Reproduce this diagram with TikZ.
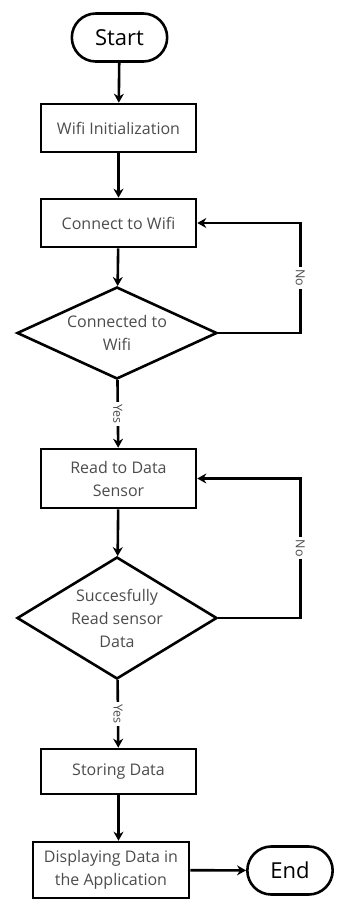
\documentclass[tikz,border=0pt]{standalone}
\usepackage{fontspec}
\setmainfont{Open Sans}
\usepackage{tikz}
\usetikzlibrary{shapes.geometric, shapes.misc, arrows.meta}

\begin{document}
\begin{tikzpicture}[x=1pt, y=-1pt, line width=2.6pt,
    process/.style={
      rectangle,
      draw,
      minimum width=155pt,
      text=black!70,
      align=center,
      font=\fontsize{16}{23}\selectfont
    },
    decision/.style={
      diamond,
      draw,
      inner sep=0pt,
      minimum width=200pt,
      text=black!70,
      align=center,
      font=\fontsize{16}{23}\selectfont
    },
    terminal/.style={
      rounded rectangle,
      draw,
      minimum height=48pt,
      font=\fontsize{22}{26}\selectfont
    },
    lbl/.style={fill=white, rotate=-90, inner sep=2.5pt, text=black!70,
      font=\fontsize{12.5}{14}\selectfont},
    >={Stealth[length=9pt, width=10pt]}]
  \useasboundingbox (0,0) rectangle (337,900);

  \node[terminal, minimum width=102pt] (start) at (119.5,37.5) {Start};
  \node[process, minimum height=48pt] (init) at (118.5,128) {Wifi Initialization};
  \node[process, minimum height=48pt] (connect) at (118.5,223) {Connect to Wifi};
  \node[decision, minimum height=92pt, shape aspect=2.15] (conn) at (117,333) {Connected to\\Wifi};
  \node[process, minimum height=59pt] (read) at (118.5,478.5) {Read to Data\\Sensor};
  \node[decision, minimum height=122pt, shape aspect=1.6] (succ) at (117,618) {Succesfully\\Read sensor\\Data};
  \node[process, minimum height=45pt] (store) at (118.5,771.5) {Storing Data};
  \node[process, minimum height=56pt, minimum width=156pt] (display) at (111,870) {Displaying Data in\\the Application};
  \node[terminal, minimum width=92pt] (end) at (290,870.5) {End};

  \draw[->] (start) -- (init);
  \draw[->] (init) -- (connect);
  \draw[->] (connect) -- (conn);
  \draw[->] (conn) -- node[lbl] {Yes} (read);
  \draw[->] (conn.east) -- ++(82,0) |- node[lbl, pos=0.25] {No} (connect.east);
  \draw[->] (read) -- (succ);
  \draw[->] (succ) -- node[lbl] {Yes} (store);
  \draw[->] (succ.east) -- ++(82,0) |- node[lbl, pos=0.25] {No} (read.east);
  \draw[->] (store.south) -- (store.south |- display.north);
  \draw[->] (display) -- (end);
\end{tikzpicture}
\end{document}
